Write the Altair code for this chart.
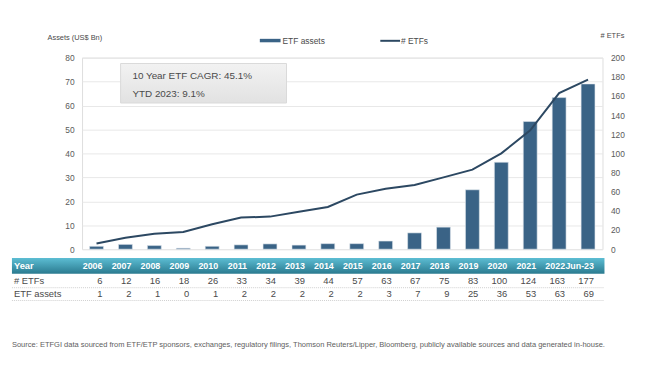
import altair as alt
import pandas as pd

years = ["2006", "2007", "2008", "2009", "2010", "2011", "2012", "2013", "2014",
         "2015", "2016", "2017", "2018", "2019", "2020", "2021", "2022", "Jun-23"]
etf_assets = [1.2, 2.0, 1.5, 0.4, 1.2, 1.8, 2.2, 1.7, 2.3, 2.3, 3.4, 6.8, 9.2,
              24.8, 36.3, 53.3, 63.3, 69.0]
num_etfs = [6, 12, 16, 18, 26, 33, 34, 39, 44, 57, 63, 67, 75, 83, 100, 124, 163, 177]
assets_label = ["1", "2", "1", "0", "1", "2", "2", "2", "2", "2", "3", "7", "9",
                "25", "36", "53", "63", "69"]

df = pd.DataFrame({"year": years, "assets": etf_assets, "etfs": num_etfs,
                   "assets_lbl": assets_label,
                   "etfs_lbl": [str(v) for v in num_etfs]})

FONT = "Liberation Sans"
W, H = 527, 194
BAR = "#3a6386"
LINE = "#2c4862"
TXT = "#4a4a4a"

xenc = alt.X("year:N", sort=years, axis=None,
             scale=alt.Scale(paddingInner=0.52, paddingOuter=0.26))

bars = alt.Chart(df).mark_bar(color=BAR, stroke="#dfe6ec", strokeWidth=0.6).encode(
    x=xenc,
    y=alt.Y("assets:Q", scale=alt.Scale(domain=[0, 80]),
            axis=alt.Axis(values=list(range(0, 81, 10)), title=None, domain=False,
                          ticks=False, labelPadding=8, labelFontSize=8.5,
                          labelColor="#5a5a5a", labelFont=FONT,
                          gridColor="#e8e8e8", gridWidth=1)),
)

line = alt.Chart(df).mark_line(color=LINE, strokeWidth=2).encode(
    x=alt.X("year:N", sort=years, axis=None, bandPosition=0.5),
    y=alt.Y("etfs:Q", scale=alt.Scale(domain=[0, 200]),
            axis=alt.Axis(orient="right", values=list(range(0, 201, 20)), title=None,
                          domain=False, ticks=False, grid=False, labelPadding=8,
                          labelFontSize=8.5, labelColor="#5a5a5a", labelFont=FONT)),
)

# table header band
header = alt.Chart(df.head(1)).mark_rect(
    color=alt.Gradient(gradient="linear", x1=0, y1=0, x2=0, y2=1,
                       stops=[alt.GradientStop(color="#5cbdd3", offset=0),
                              alt.GradientStop(color="#2a7a8f", offset=1)])
).encode(x=alt.value(-71), x2=alt.value(529), y=alt.value(203), y2=alt.value(219))

sep_df = pd.DataFrame({"y": [233, 246]})
seps = alt.Chart(sep_df).mark_rule(color="#cfcfcf", strokeDash=[1, 1], strokeWidth=1).encode(
    x=alt.value(-71), x2=alt.value(529), y=alt.Y("y:Q", scale=None))

base_txt = dict(font=FONT, fontSize=9.5, align="right", dx=-1, baseline="middle")
hdr_years = alt.Chart(df).mark_text(font=FONT, fontSize=9, align="right", dx=-1,
                                    baseline="middle", fontWeight="bold",
                                    color="white").encode(
    x=alt.X("year:N", sort=years, axis=None, bandPosition=1), y=alt.value(211),
    text="year:N")
row1 = alt.Chart(df).mark_text(color=TXT, **base_txt).encode(
    x=alt.X("year:N", sort=years, axis=None, bandPosition=1), y=alt.value(226),
    text="etfs_lbl:N")
row2 = alt.Chart(df).mark_text(color=TXT, **base_txt).encode(
    x=alt.X("year:N", sort=years, axis=None, bandPosition=1), y=alt.value(239),
    text="assets_lbl:N")

row_labels_df = pd.DataFrame({"lab": ["Year", "# ETFs", "ETF assets"],
                              "y": [211, 226, 239]})
rl_year = alt.Chart(row_labels_df.iloc[[0]]).mark_text(
    font=FONT, fontSize=9.5, fontWeight="bold", color="white", align="left",
    baseline="middle").encode(x=alt.value(-69), y=alt.value(211), text="lab:N")
rl_rows = alt.Chart(row_labels_df.iloc[1:]).mark_text(
    font=FONT, fontSize=9.5, color=TXT, align="left", baseline="middle").encode(
    x=alt.value(-69), y=alt.Y("y:Q", scale=None), text="lab:N")

# annotation box
box = alt.Chart(df.head(1)).mark_rect(
    color=alt.Gradient(gradient="linear", x1=0, y1=0, x2=0, y2=1,
                       stops=[alt.GradientStop(color="#f2f2f2", offset=0),
                              alt.GradientStop(color="#e2e2e2", offset=1)]),
    stroke="#d9d9d9", strokeWidth=1
).encode(x=alt.value(39), x2=alt.value(207), y=alt.value(6), y2=alt.value(46))
ann_df = pd.DataFrame({"t": ["10 Year ETF CAGR: 45.1%", "YTD 2023: 9.1%"], "y": [19, 37]})
ann = alt.Chart(ann_df).mark_text(font=FONT, fontSize=10, color=TXT, align="left",
                                  baseline="middle").encode(
    x=alt.value(51), y=alt.Y("y:Q", scale=None), text="t:N")

# legend
leg_bar = alt.Chart(df.head(1)).mark_rect(color=BAR).encode(
    x=alt.value(180), x2=alt.value(201), y=alt.value(-19), y2=alt.value(-15.5))
leg_line = alt.Chart(df.head(1)).mark_rule(color=LINE, strokeWidth=2).encode(
    x=alt.value(302), x2=alt.value(322), y=alt.value(-17))
leg_df = pd.DataFrame({"t": ["ETF assets", "# ETFs"], "x": [203, 323]})
leg_txt = alt.Chart(leg_df).mark_text(font=FONT, fontSize=8.5, color=TXT, align="left",
                                      baseline="middle").encode(
    x=alt.X("x:Q", scale=None), y=alt.value(-17), text="t:N")

titles_df = pd.DataFrame({"t": ["Assets (US$ Bn)", "# ETFs"], "x": [-35, 525], "y": [-20, -22]})
titles = alt.Chart(titles_df).mark_text(font=FONT, fontSize=7.5, color=TXT, align="left",
                                        baseline="middle").encode(
    x=alt.X("x:Q", scale=None), y=alt.Y("y:Q", scale=None), text="t:N")

source = alt.Chart(pd.DataFrame({"t": [
    "Source: ETFGI data sourced from ETF/ETP sponsors, exchanges, regulatory filings, "
    "Thomson Reuters/Lipper, Bloomberg, publicly available sources and data generated in-house."]})
).mark_text(font=FONT, fontSize=7.6, color="#606060", align="left", baseline="middle").encode(
    x=alt.value(-71), y=alt.value(291), text="t:N")

chart = alt.layer(
    bars, line, header, seps, hdr_years, row1, row2, rl_year, rl_rows,
    box, ann, leg_bar, leg_line, leg_txt, titles, source
).resolve_scale(y="independent").properties(
    width=W, height=H,
    autosize=alt.AutoSizeParams(type="none"),
    padding={"left": 75, "top": 48, "right": 40, "bottom": 110},
).configure_view(stroke=None).configure(background="white")

chart.save("out.html", embed_options={"renderer": "svg", "actions": False})
